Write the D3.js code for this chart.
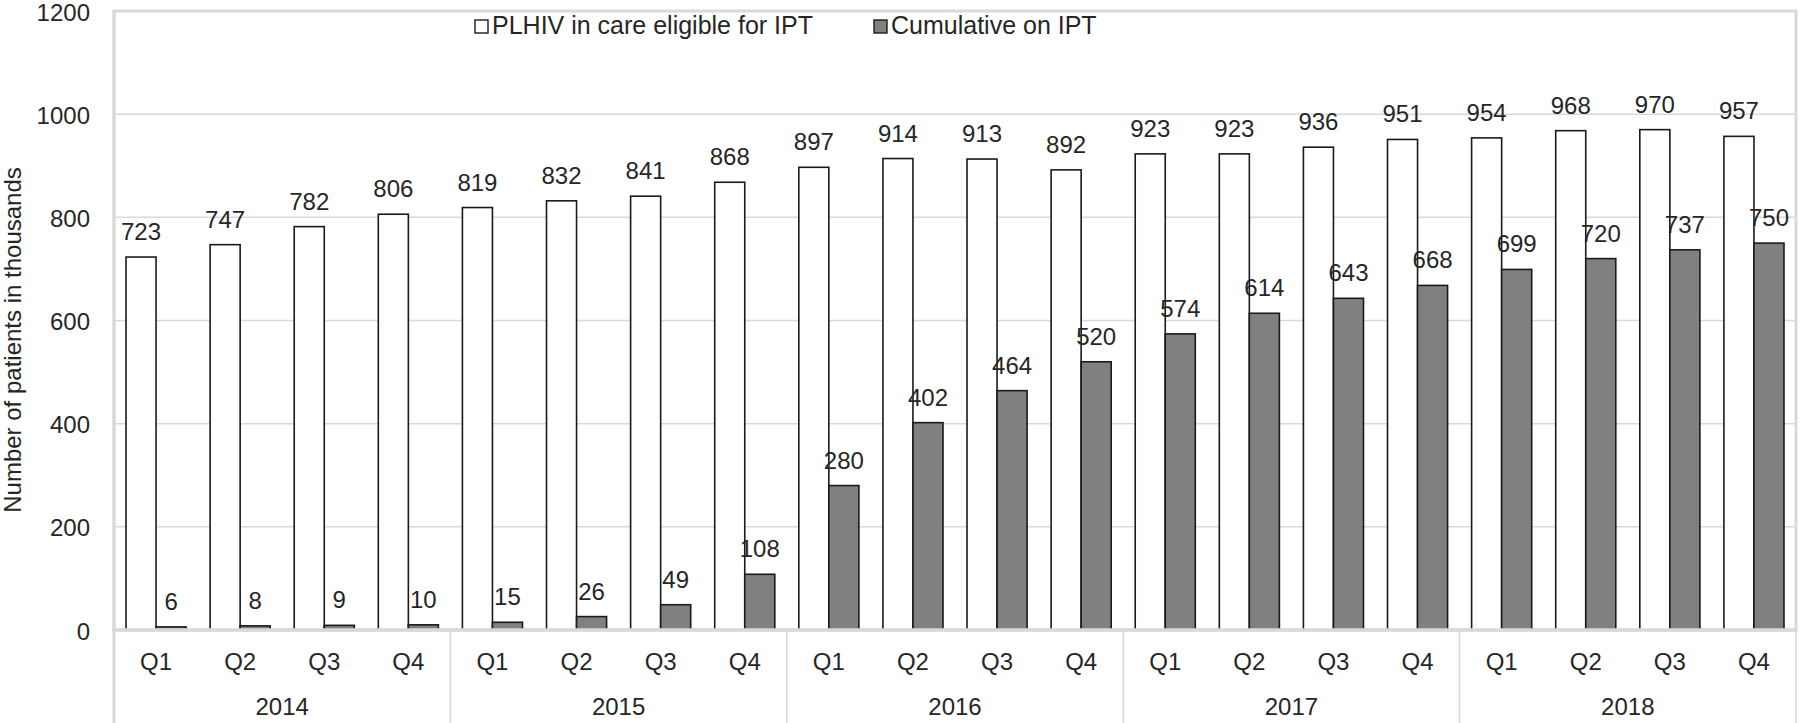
<!DOCTYPE html>
<html>
<head>
<meta charset="utf-8">
<script src="https://cdn.jsdelivr.net/npm/d3@7/dist/d3.min.js"></script>
<style>
  html, body { margin: 0; padding: 0; background: #fff; }
  svg { display: block; font-family: "Liberation Sans", Arial, sans-serif; }
</style>
</head>
<body>
<svg id="chart" width="1800" height="723"></svg>
<script>
const years = ["2014", "2015", "2016", "2017", "2018"];
const quarters = ["Q1", "Q2", "Q3", "Q4"];
const seriesNames = ["PLHIV in care eligible for IPT", "Cumulative on IPT"];
const eligible = [723, 747, 782, 806, 819, 832, 841, 868, 897, 914, 913, 892, 923, 923, 936, 951, 954, 968, 970, 957];
const cumulative = [6, 8, 9, 10, 15, 26, 49, 108, 280, 402, 464, 520, 574, 614, 643, 668, 699, 720, 737, 750];
const yTicks = [0, 200, 400, 600, 800, 1000, 1200];

(function () {
const categories = [];
years.forEach(yr => quarters.forEach(q => categories.push({ key: yr + "-" + q, year: yr, q: q })));
const rows = categories.map((c, i) => ({ ...c, values: [eligible[i], cumulative[i]] }));

const svg = d3.select("#chart");
const pL = 114, pR = 1796, pT = 11, pB = 630, svgH = 723;
const textColor = "#262626";
const gridColor = "#d9d9d9";
const numSize = 24;

const x0 = d3.scaleBand().domain(categories.map(c => c.key)).range([pL, pR]).padding(0);
const x1 = d3.scaleBand().domain([0, 1]).range([0, x0.bandwidth()]).paddingInner(0).paddingOuter(0.4);
const y = d3.scaleLinear().domain([0, 1200]).range([pB, pT]);

// gridlines
svg.append("g").selectAll("line")
  .data(yTicks.filter(t => t > 0 && t < 1200))
  .join("line")
  .attr("x1", pL).attr("x2", pR)
  .attr("y1", d => y(d)).attr("y2", d => y(d))
  .attr("stroke", gridColor).attr("stroke-width", 1.5);

// plot border
svg.append("rect")
  .attr("x", pL).attr("y", y(1200))
  .attr("width", pR - pL).attr("height", pB - y(1200))
  .attr("fill", "none").attr("stroke", gridColor).attr("stroke-width", 3);

// y axis labels
const yAxis = d3.axisLeft(y).tickValues(yTicks).tickSize(0).tickPadding(24).tickFormat(d3.format("d"));
const yg = svg.append("g").attr("transform", `translate(${pL},0)`).call(yAxis);
yg.select(".domain").remove();
yg.selectAll("text").attr("font-size", numSize).attr("fill", textColor)
  .attr("font-family", "Liberation Sans, Arial, sans-serif")
  .attr("dy", "0.38em");

// bars
const groups = svg.append("g").selectAll("g")
  .data(rows).join("g")
  .attr("transform", d => `translate(${x0(d.key)},0)`);

groups.selectAll("rect")
  .data(d => d.values.map((v, i) => ({ v, i })))
  .join("rect")
  .attr("x", d => x1(d.i))
  .attr("y", d => y(d.v))
  .attr("width", x1.bandwidth())
  .attr("height", d => y(0) - y(d.v))
  .attr("fill", d => d.i === 0 ? "#ffffff" : "#808080")
  .attr("stroke", "#1a1a1a")
  .attr("stroke-width", 1.6);

groups.selectAll("text")
  .data(d => d.values.map((v, i) => ({ v, i })))
  .join("text")
  .attr("x", d => x1(d.i) + x1.bandwidth() / 2)
  .attr("y", d => y(d.v) - 17)
  .attr("text-anchor", "middle")
  .attr("font-size", numSize)
  .attr("fill", textColor)
  .text(d => d.v);

// x axis line
svg.append("line")
  .attr("x1", pL - 1.5).attr("x2", pR + 1.5)
  .attr("y1", pB).attr("y2", pB)
  .attr("stroke", gridColor).attr("stroke-width", 3.5);

// left axis line
svg.append("line")
  .attr("x1", pL).attr("x2", pL)
  .attr("y1", pT).attr("y2", svgH)
  .attr("stroke", gridColor).attr("stroke-width", 3);

// year separators below axis
const yearBounds = years.map(yr => x0(yr + "-Q1")).concat([pR]);
svg.append("g").selectAll("line")
  .data(yearBounds)
  .join("line")
  .attr("x1", d => d).attr("x2", d => d)
  .attr("y1", pB).attr("y2", svgH)
  .attr("stroke", gridColor).attr("stroke-width", 1.5);

// quarter labels
const xAxisQ = d3.axisBottom(x0).tickSize(0).tickPadding(0).tickFormat(k => k.split("-")[1]);
const xq = svg.append("g").attr("transform", `translate(0,${pB})`).call(xAxisQ);
xq.select(".domain").remove();
xq.selectAll("text").attr("font-size", numSize).attr("fill", textColor)
  .attr("font-family", "Liberation Sans, Arial, sans-serif")
  .attr("dy", null).attr("y", 40);

// year labels
svg.append("g").selectAll("text")
  .data(years)
  .join("text")
  .attr("x", (d, i) => (yearBounds[i] + yearBounds[i + 1]) / 2)
  .attr("y", 715)
  .attr("text-anchor", "middle")
  .attr("font-size", numSize)
  .attr("fill", textColor)
  .text(d => d);

// y axis title
svg.append("text")
  .attr("transform", "translate(21,340) rotate(-90)")
  .attr("text-anchor", "middle")
  .attr("font-size", 24)
  .attr("fill", textColor)
  .text("Number of patients in thousands");

// legend
const legendX = [475, 874];
const legend = svg.append("g").selectAll("g")
  .data(seriesNames).join("g")
  .attr("transform", (d, i) => `translate(${legendX[i]},20)`);
legend.append("rect")
  .attr("width", 13).attr("height", 13)
  .attr("fill", (d, i) => i === 0 ? "#fff" : "#808080")
  .attr("stroke", "#1a1a1a").attr("stroke-width", 1.4);
legend.append("text")
  .attr("x", 17).attr("y", 14)
  .attr("font-size", 25)
  .attr("fill", textColor)
  .text(d => d);
})();
</script>
</body>
</html>
